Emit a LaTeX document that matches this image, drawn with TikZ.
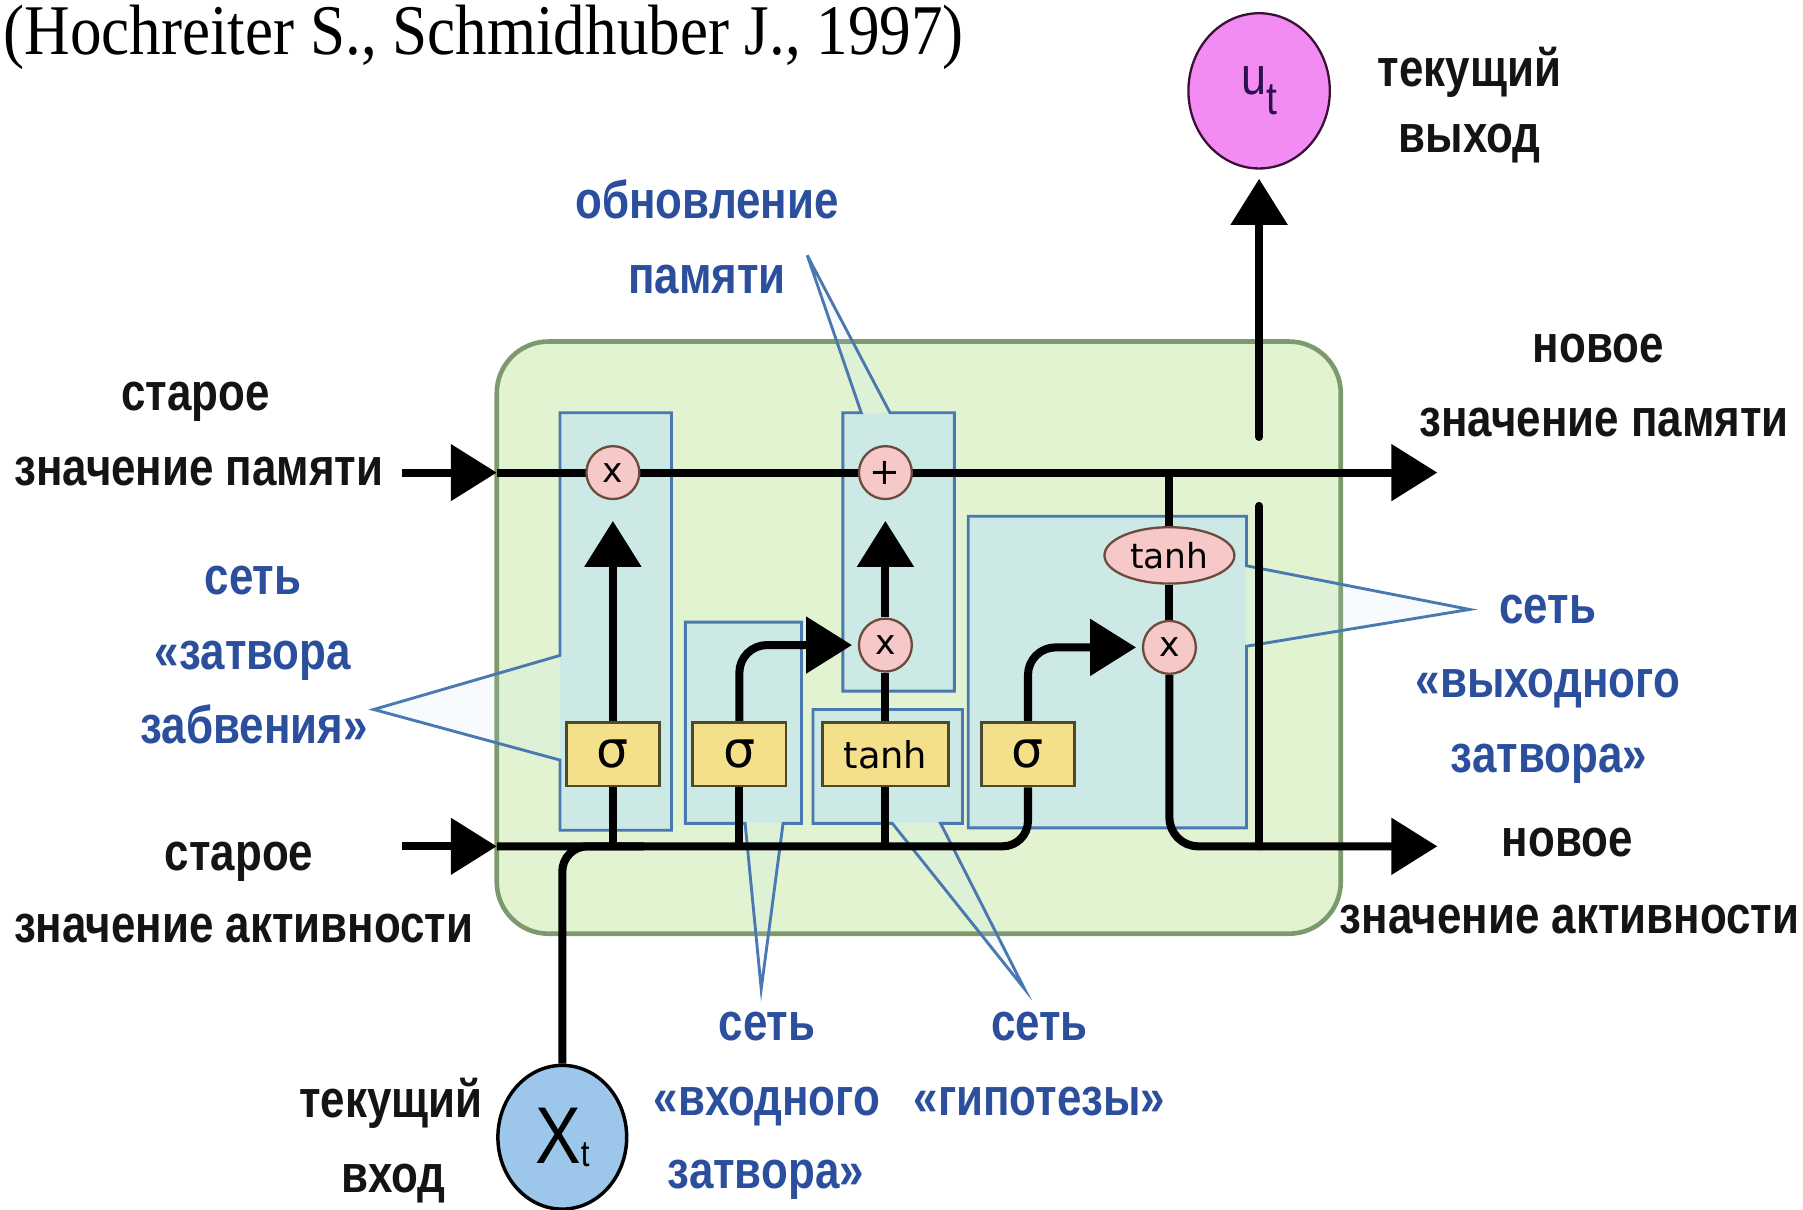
\documentclass[tikz,border=0pt]{standalone}
\usepackage{fontspec}
\setmainfont{Liberation Serif}[FakeStretch=0.885]
\newfontfamily\labfont{Liberation Sans}[FakeStretch=0.83]
\newfontfamily\symfont{DejaVu Sans}
\newfontfamily\arfont{Liberation Sans}
\newfontfamily\narfont{Liberation Sans}[FakeStretch=0.85]
\usetikzlibrary{arrows.meta,shapes.geometric,calc}
\definecolor{cellfill}{HTML}{E1F3D1}
\definecolor{celldraw}{HTML}{7D9A6E}
\definecolor{callfill}{HTML}{BFE3F5}
\definecolor{calldraw}{HTML}{4A78B0}
\definecolor{gatefill}{HTML}{F4E08A}
\definecolor{gatedraw}{HTML}{4B4A2F}
\definecolor{opfill}{HTML}{F6C8C8}
\definecolor{opdraw}{HTML}{6B4B3B}
\definecolor{outfill}{HTML}{F28CF2}
\definecolor{outdraw}{HTML}{3A1038}
\definecolor{outtext}{HTML}{2A1050}
\definecolor{infill}{HTML}{9CC7EA}
\definecolor{labblue}{HTML}{2B4F9C}
\definecolor{labblack}{HTML}{141414}
\pgfdeclarelayer{back}
\pgfdeclarelayer{mid}
\pgfdeclarelayer{lines}
\pgfsetlayers{back,mid,lines,main}
\begin{document}
\begin{tikzpicture}[x=1pt,y=-1pt,
  >={Triangle[length=40pt,width=48pt]},
  wire/.style={line width=7pt,draw=black},
  gatebox/.style={draw=gatedraw,fill=gatefill,line width=2.5pt,minimum height=55pt,inner sep=0pt,font=\symfont\fontsize{44}{44}\selectfont},
  opnode/.style={circle,draw=opdraw,fill=opfill,line width=2pt,minimum size=46pt,inner sep=0pt,font=\symfont\fontsize{30}{30}\selectfont},
  callfillst/.style={fill=callfill,fill opacity=0.5,draw=none},
  callout/.style={draw=calldraw,fill=callfill,fill opacity=0.12,line width=2.5pt,line join=miter},
  blk/.style={anchor=base,text=labblack,font=\labfont\bfseries\fontsize{46}{50}\selectfont,inner sep=0pt},
  blu/.style={blk,text=labblue},
]
\useasboundingbox (0,0) rectangle (1568,1052);
\begin{pgfonlayer}{back}
\fill[white] (0,0) rectangle (1568,1052);
\node[draw=celldraw,fill=cellfill,line width=4pt,rounded corners=45pt,minimum width=734pt,minimum height=515pt] (cell) at (799,554.5) {};
\end{pgfonlayer}

% title
\node[anchor=base west,font=\fontsize{62}{66}\selectfont,inner sep=0pt] (title) at (3,47) {(Hochreiter S., Schmidhuber J., 1997)};

% terminals
\node[ellipse,draw=outdraw,fill=outfill,line width=2pt,minimum width=123pt,minimum height=135pt,inner sep=0pt,text=outtext] (ut) at (1095,79) {\narfont\fontsize{46}{46}\selectfont u\raisebox{-17pt}{\fontsize{40}{40}\selectfont t}};
\node[ellipse,draw=black,fill=infill,line width=3pt,minimum width=112pt,minimum height=125pt,inner sep=0pt] (xt) at (489,989) {\narfont\fontsize{70}{70}\selectfont X\raisebox{-3pt}{\fontsize{32}{32}\selectfont t}};

% operators
\node[opnode] (mul1) at (533,411) {x};
\node[opnode,font=\symfont\fontsize{32}{32}\selectfont] (plus) at (770,411) {+};
\node[opnode] (mul2) at (770,561) {x};
\node[opnode] (mul3) at (1017,563) {x};
\node[ellipse,draw=opdraw,fill=opfill,line width=2pt,minimum width=113pt,minimum height=49pt,inner sep=0pt,font=\symfont\fontsize{30}{30}\selectfont] (tanhe) at (1017,483) {tanh};

% gates
\node[gatebox,minimum width=81pt] (sig1) at (533,656) {σ};
\node[gatebox,minimum width=81pt] (sig2) at (643,656) {σ};
\node[gatebox,minimum width=110pt,font=\symfont\fontsize{32}{32}\selectfont] (tanhb) at (770,656) {tanh};
\node[gatebox,minimum width=81pt] (sig4) at (894,656) {σ};

% coordinates
\coordinate (memA) at (350,411);
\coordinate (memB) at (432,411);
\coordinate (memC) at (1250,411);
\coordinate (memJ) at (1017,411);
\coordinate (actA) at (350,736);
\coordinate (actB) at (432,736);
\coordinate (actC) at (1250,736);
\coordinate (actX) at (560,736);
\coordinate (outLow) at (1095,440);
\coordinate (outJ) at (1095,736);
\coordinate (outHigh) at (1095,380);
\coordinate (fgTip) at (325,617);
\coordinate (upTip) at (702,222);
\coordinate (inTip) at (662,860);
\coordinate (hyTip) at (891,860);
\coordinate (ogTip) at (1278,530);

% callouts
\begin{pgfonlayer}{mid}
\fill[callfillst] (487,359) rectangle (584,722);
\fill[callfillst] (733,359) rectangle (830,601);
\fill[callfillst] (596,541) rectangle (697,716);
\fill[callfillst] (707,617) rectangle (837,716);
\fill[callfillst] (842,449) rectangle (1084,720);
\draw[callout] (487,359) -- (584,359) -- (584,722) -- (487,722) -- (487,661) -- (fgTip) -- (487,570) -- cycle;
\draw[callout] (733,359) -- (749,359) -- (upTip) -- (774,359) -- (830,359) -- (830,601) -- (733,601) -- cycle;
\draw[callout] (596,541) -- (697,541) -- (697,716) -- (681,716) -- (inTip) -- (648,716) -- (596,716) -- cycle;
\draw[callout] (707,617) -- (837,617) -- (837,716) -- (818,716) -- (hyTip) -- (776,716) -- (707,716) -- cycle;
\draw[callout] (842,449) -- (1084,449) -- (1084,492) -- (ogTip) -- (1084,562) -- (1084,720) -- (842,720) -- cycle;
\end{pgfonlayer}

% wires
\begin{pgfonlayer}{lines}
\draw[wire,->] (memA) -- (memB);
\draw[wire,->] (memB) -- (memC);
\draw[wire,->] (actA) -- (actB);
\draw[wire,rounded corners=22pt] (actB) -| (sig4.south);
\draw[wire,rounded corners=22pt] (xt.north) |- (actX);
\draw[wire] (sig1.south) -- (sig1.south |- actB);
\draw[wire] (sig2.south) -- (sig2.south |- actB);
\draw[wire] (tanhb.south) -- (tanhb.south |- actB);
\draw[wire,->,shorten >=18pt] (sig1.north) -- (mul1.south);
\draw[wire,->,rounded corners=24pt,shorten >=5pt] (sig2.north) |- (mul2.west);
\draw[wire] (tanhb.north) -- (mul2.south);
\draw[wire,->,shorten >=18pt] (mul2.north) -- (plus.south);
\draw[wire,->,rounded corners=24pt,shorten >=5pt] (sig4.north) |- (mul3.west);
\draw[wire] (memJ) -- (tanhe.north);
\draw[wire] (tanhe.south) -- (mul3.north);
\draw[wire,->,rounded corners=25pt] (mul3.south) |- (actC);
\draw[wire,line cap=round] (outLow) -- (outJ);
\draw[wire,->,line cap=round,shorten >=8pt] (outHigh) -- (ut.south);
\end{pgfonlayer}

% black labels
\node[blk] (oldm1) at (170,357) {старое};
\node[blk] (oldm2) at (173,422) {значение памяти};
\node[blk] (olda1) at (208,757) {старое};
\node[blk] (olda2) at (212,820) {значение активности};
\node[blk] (newm1) at (1390,315) {новое};
\node[blk] (newm2) at (1395,380) {значение памяти};
\node[blk] (newa1) at (1363,745) {новое};
\node[blk] (newa2) at (1365,812) {значение активности};
\node[blk] (cur1) at (1278,75) {текущий};
\node[blk] (cur2) at (1278,133) {выход};
\node[blk] (inp1) at (340,972) {текущий};
\node[blk] (inp2) at (342,1037) {вход};

% blue labels
\node[blu] (upd1) at (615,190) {обновление};
\node[blu] (upd2) at (615,255) {памяти};
\node[blu] (fg1) at (220,517) {сеть};
\node[blu] (fg2) at (220,582) {«затвора};
\node[blu] (fg3) at (221,647) {забвения»};
\node[blu] (og1) at (1346,542) {сеть};
\node[blu] (og2) at (1346,607) {«выходного};
\node[blu] (og3) at (1347,672) {затвора»};
\node[blu] (ig1) at (667,905) {сеть};
\node[blu] (ig2) at (667,970) {«входного};
\node[blu] (ig3) at (666,1034) {затвора»};
\node[blu] (hy1) at (904,905) {сеть};
\node[blu] (hy2) at (904,970) {«гипотезы»};
\end{tikzpicture}
\end{document}
